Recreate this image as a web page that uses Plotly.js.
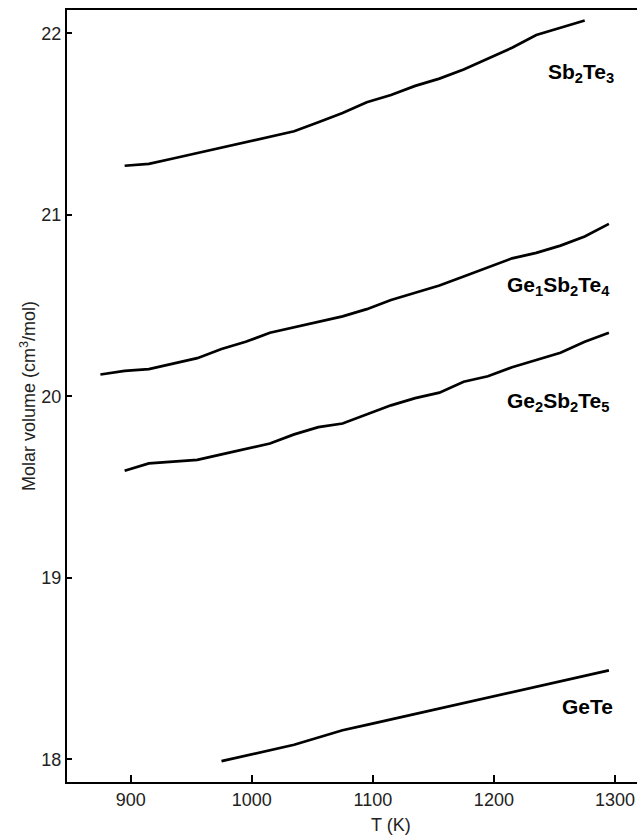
<!DOCTYPE html>
<html>
<head>
<meta charset="utf-8">
<script src="https://cdn.plot.ly/plotly-3.0.1.min.js"></script>
<style>html,body{margin:0;padding:0;background:#fff;}</style>
</head>
<body>
<div id="chart" style="width:637px;height:839px;"></div>
<script>
// Temperatures (K) and molar volumes (cm3/mol)
const tSb2Te3 = [895, 915, 935, 955, 975, 995, 1015, 1035, 1055, 1075, 1095, 1115, 1135, 1155, 1175, 1195, 1215, 1235, 1255, 1275];
const vSb2Te3 = [21.27, 21.28, 21.31, 21.34, 21.37, 21.40, 21.43, 21.46, 21.51, 21.56, 21.62, 21.66, 21.71, 21.75, 21.80, 21.86, 21.92, 21.99, 22.03, 22.07];

const tGe1 = [875, 895, 915, 935, 955, 975, 995, 1015, 1035, 1055, 1075, 1095, 1115, 1135, 1155, 1175, 1195, 1215, 1235, 1255, 1275, 1295];
const vGe1 = [20.12, 20.14, 20.15, 20.18, 20.21, 20.26, 20.30, 20.35, 20.38, 20.41, 20.44, 20.48, 20.53, 20.57, 20.61, 20.66, 20.71, 20.76, 20.79, 20.83, 20.88, 20.95];

const tGe2 = [895, 915, 935, 955, 975, 995, 1015, 1035, 1055, 1075, 1095, 1115, 1135, 1155, 1175, 1195, 1215, 1235, 1255, 1275, 1295];
const vGe2 = [19.59, 19.63, 19.64, 19.65, 19.68, 19.71, 19.74, 19.79, 19.83, 19.85, 19.90, 19.95, 19.99, 20.02, 20.08, 20.11, 20.16, 20.20, 20.24, 20.30, 20.35];

const tGeTe = [975, 995, 1015, 1035, 1055, 1075, 1095, 1115, 1135, 1155, 1175, 1195, 1215, 1235, 1255, 1275, 1295];
const vGeTe = [17.99, 18.02, 18.05, 18.08, 18.12, 18.16, 18.19, 18.22, 18.25, 18.28, 18.31, 18.34, 18.37, 18.40, 18.43, 18.46, 18.49];

const seriesNames = ["Sb<sub>2</sub>Te<sub>3</sub>", "Ge<sub>1</sub>Sb<sub>2</sub>Te<sub>4</sub>", "Ge<sub>2</sub>Sb<sub>2</sub>Te<sub>5</sub>", "GeTe"];
const labelX = [1272, 1253, 1253, 1277];
const labelY = [21.78, 20.61, 19.97, 18.29];

const xTicks = [900, 1000, 1100, 1200, 1300];
const yTicks = [18, 19, 20, 21, 22];
const xTitle = "T (K)";
const yTitle = "Molar volume (cm<sup>3</sup>/mol)";

const lineStyle = {color: "#000", width: 2.7};
const data = [
  {x: tSb2Te3, y: vSb2Te3, name: seriesNames[0]},
  {x: tGe1, y: vGe1, name: seriesNames[1]},
  {x: tGe2, y: vGe2, name: seriesNames[2]},
  {x: tGeTe, y: vGeTe, name: seriesNames[3]}
].map(d => Object.assign(d, {type: "scatter", mode: "lines", line: lineStyle, hoverinfo: "skip"}));

const annotations = seriesNames.map((n, i) => ({
  x: labelX[i], y: labelY[i], xref: "x", yref: "y", text: "<b>" + n + "</b>",
  showarrow: false, xanchor: "center", yanchor: "middle",
  font: {family: "Liberation Sans, Arial, sans-serif", size: 21, color: "#000"}
}));
annotations.push({
  x: 1115, y: -0.056, xref: "x", yref: "paper", text: xTitle, showarrow: false,
  xanchor: "center", yanchor: "middle",
  font: {family: "Liberation Sans, Arial, sans-serif", size: 18, color: "#222"}
});

const layout = {
  width: 637, height: 839,
  margin: {l: 67, r: 0, t: 10, b: 57},
  paper_bgcolor: "#fff", plot_bgcolor: "#fff",
  showlegend: false,
  font: {family: "Liberation Sans, Arial, sans-serif", size: 18, color: "#222"},
  xaxis: {
    range: [847.4, 1318.2], tickvals: xTicks, ticktext: xTicks.map(String),
    ticks: "inside", ticklen: 7, tickwidth: 2, tickcolor: "#000",
    showline: true, linewidth: 2, linecolor: "#000", mirror: true,
    showgrid: false, zeroline: false,
    tickfont: {size: 18, color: "#222"}
  },
  yaxis: {
    range: [17.875, 22.128], tickvals: yTicks, ticktext: yTicks.map(String),
    ticks: "inside", ticklen: 5, tickwidth: 2, tickcolor: "#000",
    showline: true, linewidth: 2, linecolor: "#000", mirror: false,
    showgrid: false, zeroline: false,
    tickfont: {size: 18, color: "#222"},
    title: {text: yTitle, font: {size: 18, color: "#222"}, standoff: 1}
  },
  annotations: annotations
};

Plotly.newPlot("chart", data, layout, {displayModeBar: false, responsive: false});
</script>
</body>
</html>
